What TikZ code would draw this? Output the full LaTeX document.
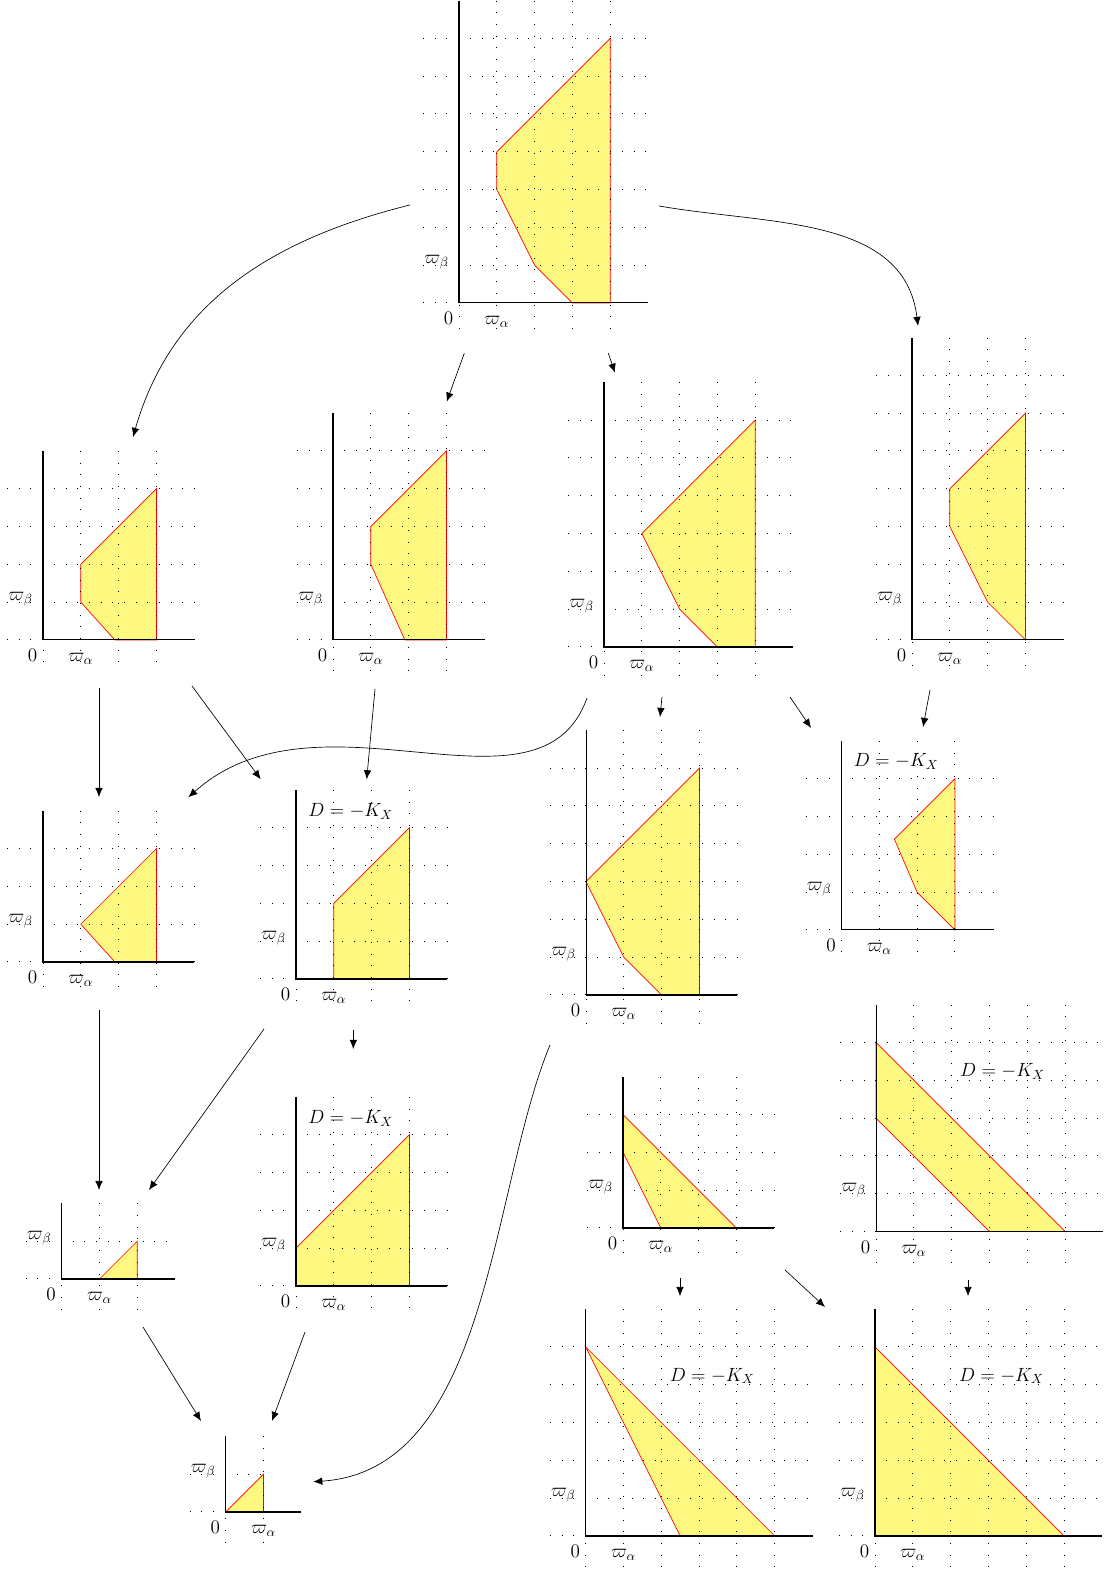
\documentclass[tikz,border=0pt]{standalone}
\usetikzlibrary{arrows.meta}

% grid, axes and axis labels of one plot
% #1 last vertical line, #2 last horizontal line, #3 end of horizontal lines,
% #4 length of x axis, #5 length of y axis, #6 name prefix
\newcommand{\axesgrid}[6]{%
  \foreach \gx in {0,...,#1}
    \draw[gridline] (\gx,#5) -- (\gx,-0.85);
  \foreach \gy in {0,...,#2}
    \draw[gridline] (-0.95,\gy) -- (#3,\gy);
  \draw[axisline] (#4,0) -- (0,0) -- (0,#5);
  \node[lbl, anchor=base east] (#6zero) at (-0.03,-0.58) {$0$};
  \node[lbl, anchor=base] (#6alpha) at (1,-0.58) {$\varpi_\alpha$};
  \node[lbl, anchor=base east] (#6beta) at (-0.15,1.05) {$\varpi_\beta$};
}

\begin{document}
\begin{tikzpicture}[
  gridline/.style={line width=0.75pt, dash pattern=on 0.75pt off 8.05pt},
  axisline/.style={line width=0.8pt},
  region/.style={draw=red, fill=yellow!50, line width=0.5pt},
  lbl/.style={font=\Large},
  conn/.style={-{Latex[length=2.4mm, width=2mm]}, line width=0.5pt},
]
  \useasboundingbox (0,0) rectangle (29.18,41.56);

  % Top
  \begin{scope}[shift={(12.143,33.545)}]
    \draw[region] (3,0) -- (4,0) -- (4,7) -- (1,4) -- (1,3) -- (2,1) -- cycle;
    \axesgrid{4}{7}{5}{5}{8}{p1}
  \end{scope}

  % Second row
  \begin{scope}[shift={(1.138,24.630)}]
    \draw[region] (1.9,0) -- (3,0) -- (3,4) -- (1,2) -- (1,1) -- cycle;
    \axesgrid{3}{4}{4}{4}{5}{p2}
  \end{scope}
  \begin{scope}[shift={(8.810,24.630)}]
    \draw[region] (1.9,0) -- (3,0) -- (3,5) -- (1,3) -- (1,2) -- cycle;
    \axesgrid{3}{5}{4}{4}{6}{p3}
  \end{scope}
  \begin{scope}[shift={(15.979,24.444)}]
    \draw[region] (3,0) -- (4,0) -- (4,6) -- (1,3) -- (2,1) -- cycle;
    \axesgrid{4}{6}{5}{5}{7}{p4}
  \end{scope}
  \begin{scope}[shift={(24.127,24.630)}]
    \draw[region] (3,0) -- (3,6) -- (1,4) -- (1,3) -- (2,1) -- cycle;
    \axesgrid{3}{7}{4}{4}{8}{p5}
  \end{scope}

  % Third row
  \begin{scope}[shift={(1.138,16.111)}]
    \draw[region] (1.9,0) -- (3,0) -- (3,3) -- (1,1) -- cycle;
    \axesgrid{3}{3}{4}{4}{4}{p6}
  \end{scope}
  \begin{scope}[shift={(7.831,15.661)}]
    \draw[region] (1,0) -- (3,0) -- (3,4) -- (1,2) -- cycle;
    \axesgrid{3}{4}{4}{4}{5}{p7}
    \node[lbl, anchor=base west] (p7d) at (0.2,4.3) {$D=-K_X$};
  \end{scope}
  \begin{scope}[shift={(15.503,15.238)}]
    \draw[region] (2,0) -- (3,0) -- (3,6) -- (0,3) -- (1,1) -- cycle;
    \axesgrid{3}{6}{4}{4}{7}{p8}
  \end{scope}
  \begin{scope}[shift={(22.262,16.958)}]
    \draw[region] (3,0) -- (3,4) -- (1.4,2.4) -- (2,1) -- cycle;
    \axesgrid{3}{4}{4}{4}{5}{p9}
    \node[lbl, anchor=base west] (p9d) at (0.2,4.33) {$D=-K_X$};
  \end{scope}

  % Fourth row
  \begin{scope}[shift={(16.481,9.074)}]
    \draw[region] (1,0) -- (3,0) -- (0,3) -- (0,2) -- cycle;
    \axesgrid{3}{3}{4}{4}{4}{p10}
  \end{scope}
  \begin{scope}[shift={(23.175,8.981)}]
    \draw[region] (3,0) -- (5,0) -- (0,5) -- (0,3) -- cycle;
    \axesgrid{5}{5}{6}{6}{6}{p11}
    \node[lbl, anchor=base west] (p11d) at (2.1,4.1) {$D=-K_X$};
  \end{scope}
  \begin{scope}[shift={(1.632,7.725)}]
    \draw[region] (1,0) -- (2,0) -- (2,1) -- cycle;
    \axesgrid{2}{1}{3}{3}{2}{p14}
  \end{scope}
  \begin{scope}[shift={(7.831,7.540)}]
    \draw[region] (0,0) -- (3,0) -- (3,4) -- (0,1) -- cycle;
    \axesgrid{3}{4}{4}{4}{5}{p15}
    \node[lbl, anchor=base west] (p15d) at (0.2,4.3) {$D=-K_X$};
  \end{scope}

  % Bottom row
  \begin{scope}[shift={(15.495,0.926)}]
    \draw[region] (2.5,0) -- (5,0) -- (0,5) -- cycle;
    \axesgrid{5}{5}{6}{6}{6}{p12}
    \node[lbl, anchor=base west] (p12d) at (2.1,4.1) {$D=-K_X$};
  \end{scope}
  \begin{scope}[shift={(23.148,0.926)}]
    \draw[region] (0,0) -- (5,0) -- (0,5) -- cycle;
    \axesgrid{5}{5}{6}{6}{6}{p13}
    \node[lbl, anchor=base west] (p13d) at (2.1,4.1) {$D=-K_X$};
  \end{scope}
  \begin{scope}[shift={(5.971,1.561)}]
    \draw[region] (0,0) -- (1,0) -- (1,1) -- cycle;
    \axesgrid{1}{1}{1}{2}{2}{p16}
  \end{scope}

  % Connector ends
  \coordinate (a1) at (10.847,36.138); \coordinate (a2) at (3.519,30.000);
  \coordinate (b1) at (17.434,36.111); \coordinate (b2) at (24.286,32.937);
  \coordinate (c1) at (12.283,32.214); \coordinate (c2) at (11.817,30.934);
  \coordinate (d1) at (16.093,32.214); \coordinate (d2) at (16.270,31.701);
  \coordinate (e1) at (2.619,23.360);  \coordinate (e2) at (2.619,20.476);
  \coordinate (f1) at (5.079,23.413);  \coordinate (f2) at (6.897,20.944);
  \coordinate (g1) at (9.921,23.333);  \coordinate (g2) at (9.701,20.944);
  \coordinate (h1) at (15.529,23.095); \coordinate (h2) at (4.982,20.468);
  \coordinate (i1) at (17.513,23.122); \coordinate (i2) at (17.460,22.593);
  \coordinate (j1) at (20.899,23.122); \coordinate (j2) at (21.455,22.302);
  \coordinate (k1) at (24.603,23.307); \coordinate (k2) at (24.418,22.328);
  \coordinate (l1) at (2.619,14.836);  \coordinate (l2) at (2.619,10.079);
  \coordinate (m1) at (6.984,14.339);  \coordinate (m2) at (3.942,10.079);
  \coordinate (n1) at (9.347,14.312);  \coordinate (n2) at (9.347,13.810);
  \coordinate (o1) at (14.550,13.915); \coordinate (o2) at (8.288,2.362);
  \coordinate (q1) at (17.989,7.751);  \coordinate (q2) at (17.989,7.275);
  \coordinate (r1) at (20.767,7.963);  \coordinate (r2) at (21.825,6.984);
  \coordinate (s1) at (25.608,7.698);  \coordinate (s2) at (25.608,7.275);
  \coordinate (t1) at (3.783,6.455);   \coordinate (t2) at (5.317,3.968);
  \coordinate (u1) at (8.069,6.323);   \coordinate (u2) at (7.196,3.968);

  % Connectors
  \draw[conn] (a1) to[out=194, in=74] (a2);
  \draw[conn] (b1) to[out=-10, in=97] (b2);
  \draw[conn] (c1) -- (c2);
  \draw[conn] (d1) -- (d2);
  \draw[conn] (e1) -- (e2);
  \draw[conn] (f1) -- (f2);
  \draw[conn] (g1) -- (g2);
  \draw[conn] (h1) .. controls (14.286,19.603) and (8.466,23.571) .. (h2);
  \draw[conn] (i1) -- (i2);
  \draw[conn] (j1) -- (j2);
  \draw[conn] (k1) -- (k2);
  \draw[conn] (l1) -- (l2);
  \draw[conn] (m1) -- (m2);
  \draw[conn] (n1) -- (n2);
  \draw[conn] (o1) .. controls (12.963,10.079) and (12.963,2.672) .. (o2);
  \draw[conn] (q1) -- (q2);
  \draw[conn] (r1) -- (r2);
  \draw[conn] (s1) -- (s2);
  \draw[conn] (t1) -- (t2);
  \draw[conn] (u1) -- (u2);
\end{tikzpicture}
\end{document}
